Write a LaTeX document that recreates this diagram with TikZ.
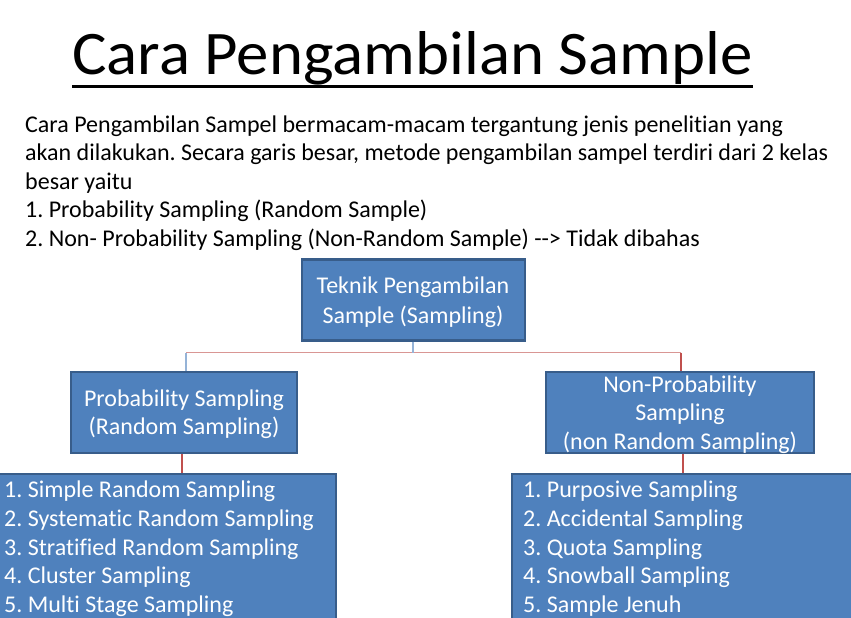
\documentclass[tikz,border=0pt]{standalone}
\usepackage{fontspec}
\setmainfont{Carlito}[Ligatures={TeX,NoCommon}]
\usepackage{graphicx}
\frenchspacing
\definecolor{boxfill}{HTML}{4F81BD}
\definecolor{boxline}{HTML}{385D8A}
\definecolor{linkred}{HTML}{C0504D}
\definecolor{linkpink}{HTML}{D99694}
\definecolor{linkblue}{HTML}{95B3D7}
\tikzset{
  box/.style={draw=boxline, line width=2.4pt, fill=boxfill, inner sep=0pt},
  body/.style={font=\fontsize{24}{28.5}\selectfont, text=black, inner sep=0pt},
  boxtext/.style={font=\fontsize{24}{28.5}\selectfont, text=white, inner sep=0pt},
  link/.style={line width=1.3pt},
}
\begin{document}
\begin{tikzpicture}[x=1pt,y=-1pt]
\useasboundingbox (0,0) rectangle (851,618);
\clip (0,0) rectangle (851,618);
\fill[white] (0,0) rectangle (851,618);

% heading
\node[inner sep=0pt, anchor=base west] (title) at (72,75)
  {\resizebox{680pt}{43pt}{Cara Pengambilan Sample}};
\draw[line width=3pt] (72,86) -- (753,86);

% introductory text
\node[body, anchor=base west] (p1) at (25,132) {Cara Pengambilan Sampel bermacam-macam tergantung jenis penelitian yang};
\node[body, anchor=base west] (p2) at (25,160.5) {akan dilakukan. Secara garis besar, metode pengambilan sampel terdiri dari 2 kelas};
\node[body, anchor=base west] (p3) at (25,189) {besar yaitu};
\node[body, anchor=base west] (p4) at (25,217.5) {1. Probability Sampling (Random Sample)};
\node[body, anchor=base west] (p5) at (25,246) {2. Non- Probability Sampling (Non-Random Sample) -{}-{}> Tidak dibahas};

% boxes
\node[box, minimum width=223pt, minimum height=81pt] (root) at (413.5,300) {};
\node[box, minimum width=226pt, minimum height=81pt] (prob) at (184,412.5) {};
\node[box, minimum width=268pt, minimum height=81pt] (nonprob) at (680,412.5) {};
\node[box, minimum width=346pt, minimum height=170pt] (problist) at (163,559) {};
\node[box, minimum width=350pt, minimum height=170pt] (nonlist) at (687,559) {};

% connectors
\coordinate (jroot) at (413,352.5);
\coordinate (jleft) at (186,352.5);
\coordinate (jright) at (681,352.5);
\draw[link, linkpink] (jleft) -- (jright);
\draw[link, linkblue] (root.south -| jroot) -- (jroot);
\draw[link, linkblue] (jleft) -- (prob.north -| jleft);
\draw[link, linkred] (jright) -- (nonprob.north -| jright);
\draw[link, linkred] ([xshift=-2pt]prob.south) -- ([xshift=-2pt]problist.north -| prob.south);
\draw[link, linkred] ([xshift=3pt]nonprob.south) -- ([xshift=3pt]nonlist.north -| nonprob.south);

% box captions
\node[boxtext, anchor=base] (rootA) at (413,293) {Teknik Pengambilan};
\node[boxtext, anchor=base] (rootB) at (413,323) {Sample (Sampling)};
\node[boxtext, anchor=base] (probA) at (184,406) {Probability Sampling};
\node[boxtext, anchor=base] (probB) at (184,434) {(Random Sampling)};
\node[boxtext, anchor=base] (nonA) at (680,392) {Non-Probability};
\node[boxtext, anchor=base] (nonB) at (680,420.5) {Sampling};
\node[boxtext, anchor=base] (nonC) at (680,449) {(non Random Sampling)};

% list of probability techniques
\node[boxtext, anchor=base west] (l1) at (4,497) {1. Simple Random Sampling};
\node[boxtext, anchor=base west] (l2) at (4,526) {2. Systematic Random Sampling};
\node[boxtext, anchor=base west] (l3) at (4,555) {3. Stratified Random Sampling};
\node[boxtext, anchor=base west] (l4) at (4,583.5) {4. Cluster Sampling};
\node[boxtext, anchor=base west] (l5) at (4,612) {5. Multi Stage Sampling};

% list of non-probability techniques
\node[boxtext, anchor=base west] (r1) at (523,497) {1. Purposive Sampling};
\node[boxtext, anchor=base west] (r2) at (523,526) {2. Accidental Sampling};
\node[boxtext, anchor=base west] (r3) at (523,555) {3. Quota Sampling};
\node[boxtext, anchor=base west] (r4) at (523,583.5) {4. Snowball Sampling};
\node[boxtext, anchor=base west] (r5) at (523,612) {5. Sample Jenuh};
\end{tikzpicture}
\end{document}
